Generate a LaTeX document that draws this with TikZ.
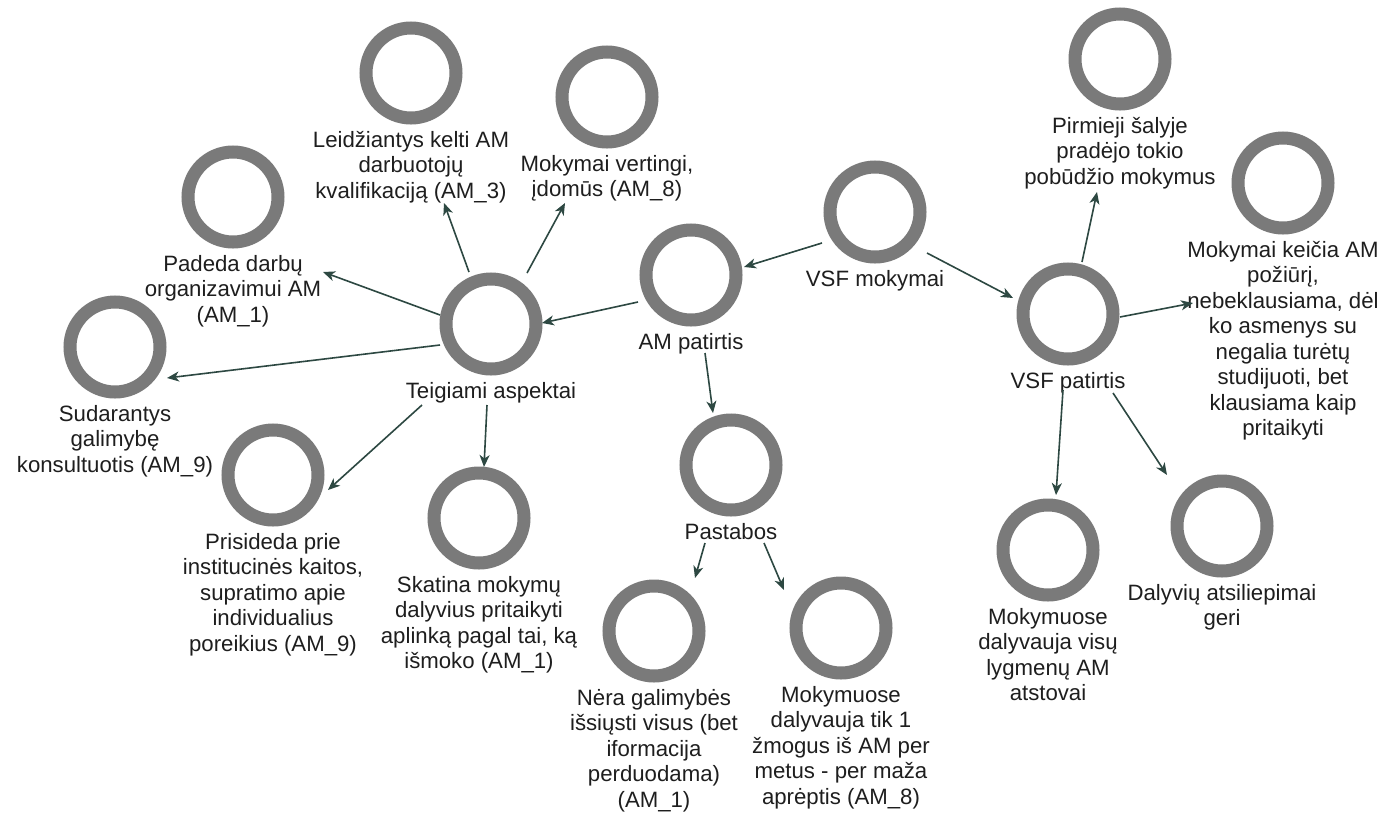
\documentclass[tikz,border=0pt]{standalone}
\usepackage{fontspec}
\setmainfont{Liberation Sans}
\usetikzlibrary{arrows.meta,calc}
\definecolor{ringgray}{RGB}{122,122,122}
\definecolor{arrowc}{RGB}{45,72,66}
\definecolor{txtc}{RGB}{30,30,30}
\newcommand\cnode[4]{%
  \node[ring] (c#1) at (#2,#3) {};
  \node[lbl] (l#1) at ($(c#1)+(0,58)$) {#4};
}
\begin{document}
\begin{tikzpicture}[x=1pt,y=-1pt,
  ring/.style={circle,draw=ringgray,line width=13pt,minimum size=90pt,inner sep=0pt},
  lbl/.style={anchor=north,align=center,inner sep=0pt,text=txtc,font=\fontsize{22.2}{25.5}\selectfont},
  arr/.style={draw=arrowc,line width=1.6pt,-{Stealth[length=12pt,width=10pt,inset=3.5pt]}}]
\useasboundingbox (0,0) rectangle (1385,812);
\fill[white] (0,0) rectangle (1385,812);

\cnode{leid}{411}{73}{Leidžiantys kelti AM\\darbuotojų\\kvalifikaciją (AM\_3)}
\cnode{vert}{607}{97}{Mokymai vertingi,\\įdomūs (AM\_8)}
\cnode{pad}{233}{197}{Padeda darbų\\organizavimui AM\\(AM\_1)}
\cnode{sud}{115}{347}{Sudarantys\\galimybę\\konsultuotis (AM\_9)}
\cnode{teig}{491}{324}{Teigiami aspektai}
\cnode{amp}{691}{275}{AM patirtis}
\cnode{vsfm}{875}{212}{VSF mokymai}
\cnode{pirm}{1120}{59}{Pirmieji šalyje\\pradėjo tokio\\pobūdžio mokymus}
\cnode{keic}{1283}{183}{Mokymai keičia AM\\požiūrį,\\nebeklausiama, dėl\\ko asmenys su\\negalia turėtų\\studijuoti, bet\\klausiama kaip\\pritaikyti}
\cnode{vsfp}{1068}{314}{VSF patirtis}
\cnode{pris}{273}{475}{Prisideda prie\\institucinės kaitos,\\supratimo apie\\individualius\\poreikius (AM\_9)}
\cnode{skat}{479}{518}{Skatina mokymų\\dalyvius pritaikyti\\aplinką pagal tai, ką\\išmoko (AM\_1)}
\cnode{past}{731}{465}{Pastabos}
\cnode{nera}{654}{631}{Nėra galimybės\\išsiųsti visus (bet\\iformacija\\perduodama)\\(AM\_1)}
\cnode{tik}{841}{628}{Mokymuose\\dalyvauja tik 1\\žmogus iš AM per\\metus - per maža\\aprėptis (AM\_8)}
\cnode{visu}{1048}{550}{Mokymuose\\dalyvauja visų\\lygmenų AM\\atstovai}
\cnode{daly}{1222}{526}{Dalyvių atsiliepimai\\geri}

\draw[arr] ($(cvsfm)+(-53,31)$) -- ($(camp)+(53,-8)$);
\draw[arr] ($(cvsfm)+(52,41)$) -- ($(cvsfp)+(-55,-16)$);
\draw[arr] ($(camp)+(-53,27)$) -- ($(cteig)+(51,-1)$);
\draw[arr] ($(camp)+(14,78)$) -- ($(cpast)+(-18,-52)$);
\draw[arr] ($(cteig)+(-22,-52)$) -- ($(cleid)+(33,130)$);
\draw[arr] ($(cteig)+(36,-51)$) -- ($(cvert)+(-42,106)$);
\draw[arr] ($(cteig)+(-51,-9)$) -- ($(cpad)+(90,75)$);
\draw[arr] ($(cteig)+(-51,21)$) -- ($(csud)+(52,31)$);
\draw[arr] ($(cteig)+(-69,81)$) -- ($(cpris)+(55,15)$);
\draw[arr] ($(cteig)+(-4,81)$) -- ($(cskat)+(5,-51)$);
\draw[arr] ($(cpast)+(-26,78)$) -- ($(cnera)+(41,-53)$);
\draw[arr] ($(cpast)+(33,78)$) -- ($(ctik)+(-57,-38)$);
\draw[arr] ($(cvsfp)+(14,-52)$) -- ($(cpirm)+(-23,133)$);
\draw[arr] ($(cvsfp)+(52,3)$) -- ($(ckeic)+(-90,120)$);
\draw[arr] ($(cvsfp)+(-5,76)$) -- ($(cvisu)+(8,-55)$);
\draw[arr] ($(cvsfp)+(45,79)$) -- ($(cdaly)+(-55,-51)$);
\end{tikzpicture}
\end{document}
